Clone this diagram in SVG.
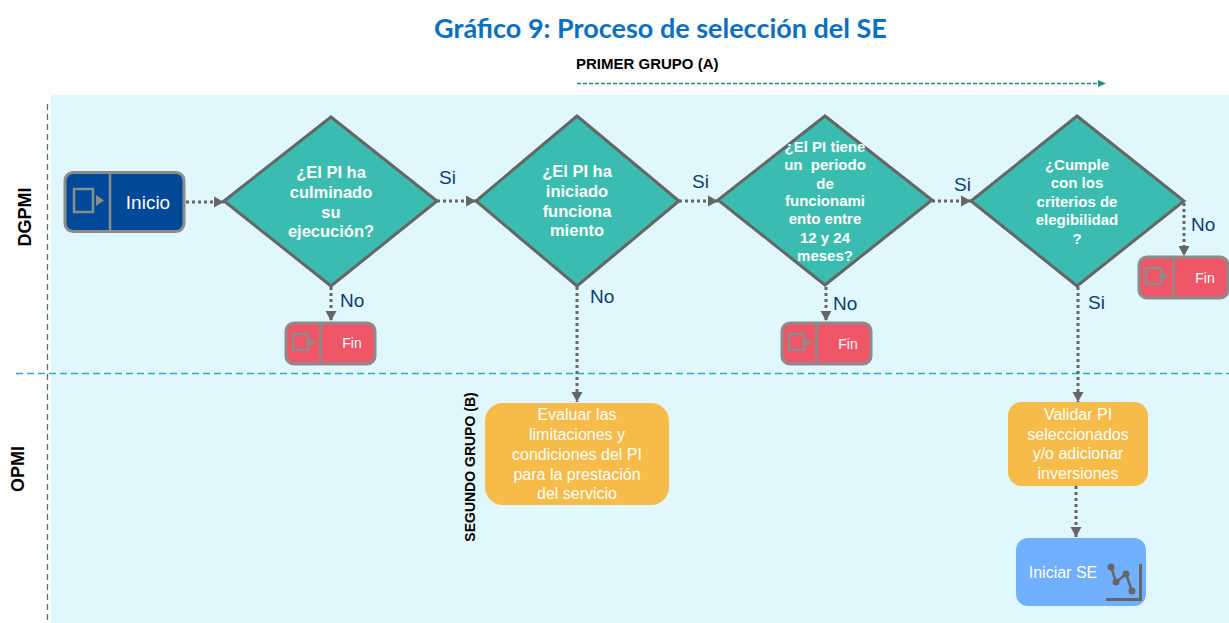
<svg xmlns="http://www.w3.org/2000/svg" width="1229" height="623" viewBox="0 0 1229 623">
<style>
text{font-family:"Liberation Sans",Arial,sans-serif}
.d{fill:#3abcb0;stroke:#666;stroke-width:3}
.dt{fill:#fff;font-weight:700;font-size:15px;text-anchor:middle;white-space:pre}
.dl{font-size:16.500px}
.lb{fill:#0c3c78;font-size:19px}
.c{fill:none;stroke:#666;stroke-width:3;stroke-dasharray:3 3}
.fin{fill:#ee5566;stroke:#8c8c8c;stroke-width:3}
.g{fill:none;stroke:#8c8c8c;stroke-width:2.500}
.gf{fill:#8c8c8c}
.ot{fill:#fff;font-size:16px;text-anchor:middle}
.o{fill:#f6bb48}
.v{fill:#000;font-weight:700;text-anchor:middle}
</style>
<defs>
<marker id="a" markerUnits="userSpaceOnUse" markerWidth="12" markerHeight="12" refX="10" refY="6" orient="auto"><path d="M0 0.500L10 6L0 11.500Z" fill="#666"/></marker>
<g id="fin"><rect class="fin" x="0" y="0" width="89" height="41" rx="8"/><path class="g" d="M34.500 0V41"/><rect class="g" x="7" y="11" width="15" height="16"/><path class="gf" d="M22 14.500L30 19L22 23.500Z"/></g>
</defs>
<rect x="51" y="95" width="1178" height="528" fill="#e0f7fe"/>
<text x="660.500" y="38" text-anchor="middle" font-size="27" font-weight="700" fill="#0b70bf" style="font-family:Lato,'Liberation Sans',sans-serif">Gráfico 9: Proceso de selección del SE</text>
<text x="576" y="69" font-size="15" font-weight="700" fill="#000">PRIMER GRUPO (A)</text>
<path d="M577 83.500H1105" fill="none" stroke="#1f8f80" stroke-width="1.300" stroke-dasharray="4 2"/>
<path d="M1098 80L1106 83.500L1098 87Z" fill="#1f8f80"/>
<path d="M47.500 104V623" fill="none" stroke="#55707a" stroke-width="1.300" stroke-dasharray="6 4"/>
<path d="M16 373.500H1229" fill="none" stroke="#2fa9cc" stroke-width="1.500" stroke-dasharray="7 4"/>
<text class="v" font-size="18" transform="translate(31 217) rotate(-90)">DGPMI</text>
<text class="v" font-size="18" transform="translate(24 469) rotate(-90)">OPMI</text>
<text class="v" font-size="14" transform="translate(475 467) rotate(-90)">SEGUNDO GRUPO (B)</text>

<g id="connectors">
<path class="c" marker-end="url(#a)" d="M186 202H224"/>
<path class="c" marker-end="url(#a)" d="M437 201H476"/>
<path class="c" marker-end="url(#a)" d="M679 201H718"/>
<path class="c" marker-end="url(#a)" d="M932 201H971"/>
<path class="c" marker-end="url(#a)" d="M331 287V321"/>
<path class="c" marker-end="url(#a)" d="M577 287V402"/>
<path class="c" marker-end="url(#a)" d="M826 287V321"/>
<path class="c" marker-end="url(#a)" d="M1078 287V402"/>
<path class="c" marker-end="url(#a)" d="M1184 203V256"/>
<path class="c" marker-end="url(#a)" d="M1076 486V537"/>
</g>
<g id="edge-labels">
<text class="lb" x="439" y="184">Si</text>
<text class="lb" x="692" y="188">Si</text>
<text class="lb" x="954" y="191">Si</text>
<text class="lb" x="1088" y="309">Si</text>
<text class="lb" x="340" y="307">No</text>
<text class="lb" x="590" y="303">No</text>
<text class="lb" x="833" y="310">No</text>
<text class="lb" x="1191" y="231">No</text>
</g>

<g id="inicio">
<rect x="65" y="172.500" width="119" height="59" rx="8" fill="#014898" stroke="#8c8c8c" stroke-width="3"/>
<path class="g" d="M110 172.500V231.500"/>
<rect class="g" x="74" y="189" width="19" height="23"/>
<path class="gf" d="M96 195L104 200.500L96 206Z"/>
<text x="148" y="209" fill="#fff" font-size="19" text-anchor="middle">Inicio</text>
</g>

<g id="d1"><path class="d" d="M331 117L437 201L331 286L224 201Z"/>
<text class="dt dl"><tspan x="331" y="178">¿El PI ha</tspan><tspan x="331" y="198">culminado</tspan><tspan x="331" y="218">su</tspan><tspan x="331" y="237">ejecución?</tspan></text></g>
<g id="d2"><path class="d" d="M577 116L679 201L577 286L476 201Z"/>
<text class="dt dl"><tspan x="577" y="177">¿El PI ha</tspan><tspan x="577" y="197">iniciado</tspan><tspan x="577" y="217">funciona</tspan><tspan x="577" y="236">miento</tspan></text></g>
<g id="d3"><path class="d" d="M825 116L932 200L825 285L718 200Z"/>
<text class="dt"><tspan x="825" y="152">¿El PI tiene</tspan><tspan x="825" y="170">un  periodo</tspan><tspan x="825" y="189">de</tspan><tspan x="825" y="206">funcionami</tspan><tspan x="825" y="224">ento entre</tspan><tspan x="825" y="243">12 y 24</tspan><tspan x="825" y="261">meses?</tspan></text></g>
<g id="d4"><path class="d" d="M1077 116L1184 201L1077 286L971 201Z"/>
<text class="dt"><tspan x="1077" y="170">¿Cumple</tspan><tspan x="1077" y="188">con los</tspan><tspan x="1077" y="207">criterios de</tspan><tspan x="1077" y="225">elegibilidad</tspan><tspan x="1077" y="244">?</tspan></text></g>

<g id="fin1"><use href="#fin" x="286" y="323"/><text x="352" y="348" fill="#fff" font-size="14" text-anchor="middle">Fin</text></g>
<g id="fin2"><use href="#fin" x="782" y="323"/><text x="848" y="349" fill="#fff" font-size="14" text-anchor="middle">Fin</text></g>
<g id="fin3"><use href="#fin" x="1139" y="257"/><text x="1205" y="283" fill="#fff" font-size="14" text-anchor="middle">Fin</text></g>

<g id="evaluar"><rect class="o" x="485" y="403" width="184" height="102" rx="18"/>
<text class="ot"><tspan x="577" y="420">Evaluar las</tspan><tspan x="577" y="440">limitaciones y</tspan><tspan x="577" y="460">condiciones del PI</tspan><tspan x="577" y="480">para la prestación</tspan><tspan x="577" y="499">del servicio</tspan></text></g>
<g id="validar"><rect class="o" x="1008" y="402" width="140" height="84" rx="14"/>
<text class="ot"><tspan x="1078" y="420">Validar PI</tspan><tspan x="1078" y="440">seleccionados</tspan><tspan x="1078" y="459">y/o adicionar</tspan><tspan x="1078" y="479">inversiones</tspan></text></g>
<g id="iniciar"><rect x="1016" y="538" width="130" height="68" rx="12" fill="#70b0ff"/>
<text x="1063" y="578" fill="#fff" font-size="16" text-anchor="middle">Iniciar SE</text>
<path d="M1140.500 564V599.500H1106" fill="none" stroke="#666" stroke-width="3"/>
<path d="M1111 567L1116 582L1126 574L1132 591" fill="none" stroke="#666" stroke-width="2.500"/>
<circle cx="1111" cy="567" r="3.500" fill="#666"/><circle cx="1116" cy="582" r="3.500" fill="#666"/><circle cx="1126" cy="574" r="3.500" fill="#666"/><circle cx="1132" cy="591" r="3.500" fill="#666"/>
</g>
</svg>
